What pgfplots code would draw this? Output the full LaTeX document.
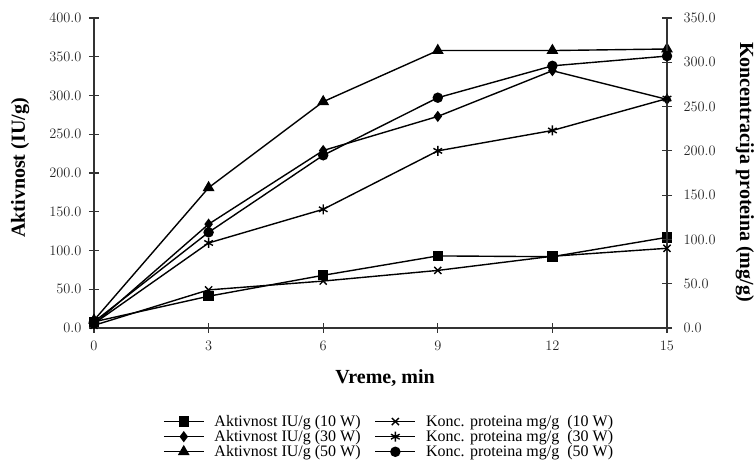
\documentclass[border=0pt]{standalone}
\usepackage{pgfplots}
\pgfplotsset{compat=1.18}
\usepackage{fontspec}
\setmainfont{Liberation Serif}

\pgfplotstableread{
x akt10 akt30 akt50
0 8 5 10
3 41 134 181
6 68 229 292
9 93 273 358
12 92 332 358
15 117 295 360
}\akt
\pgfplotstableread{
x k10 k30 k50
0 3 5 7
3 43 96 108
6 53 134 195
9 65 200 260
12 81 223 296
15 90 259 307
}\konc

\pgfplotsset{
 base/.style={
  scale only axis, width=573pt, height=310pt,
  xmin=0, xmax=15, clip=false,
  tick align=center, major tick length=10pt,
  axis line style={line width=1.3pt, black!80},
  major tick style={line width=1.1pt, black!80},
  yticklabel={\pgfmathprintnumber[fixed,fixed zerofill,precision=1]{\tick}},
  xticklabel={\pgfmathprintnumber{\tick}},
 },
 s/.style={line width=1.4pt, black, mark options={solid, fill=black}},
}
\newcommand\tlfont{\fontsize{15}{17}\selectfont}
\begin{document}
\begin{tikzpicture}
\useasboundingbox (-94pt,-137pt) rectangle (662pt,328pt);
\begin{axis}[base,
  axis x line*=bottom, axis y line*=left,
  ymin=0, ymax=400, ytick={0,50,...,400},
  xtick={0,3,...,15},
  tick label style={font=\tlfont, text=black!85},
  yticklabel style={xshift=-4pt},
  xticklabel style={yshift=-5pt},
  xlabel={Vreme, min},
  ylabel={Aktivnost (IU/g)},
  every axis y label/.style={at={(axis description cs:-0.129,0.516)}, anchor=center, rotate=90, font=\bfseries\fontsize{20}{22}\selectfont},
  every axis x label/.style={at={(axis description cs:0.508,-0.161)}, anchor=center, font=\bfseries\fontsize{20}{22}\selectfont},
  legend columns=2,
  legend cell align=left,
  legend style={at={(0.515,-0.268)}, anchor=north, draw=none, fill=none,
    font=\fontsize{16}{18}\selectfont, row sep=-1.5pt,
    /tikz/every even column/.append style={column sep=12pt},
    /tikz/every odd column/.append style={column sep=8pt}},
  legend image code/.code={\draw[mark repeat=2,mark phase=2,#1] plot coordinates {(0pt,0pt) (20pt,0pt) (40pt,0pt)};},
]
\addplot[s, mark=square*, mark size=4.5pt] table[x=x,y=akt10] {\akt};
\addlegendentry{Aktivnost IU/g (10 W)}
\addlegendimage{s, mark=x, mark size=5pt}
\addlegendentry{Konc. proteina mg/g\ \ (10 W)}
\addplot[s, mark=diamond*, mark size=4.5pt] table[x=x,y=akt30] {\akt};
\addlegendentry{Aktivnost IU/g (30 W)}
\addlegendimage{s, mark=asterisk, mark size=5pt}
\addlegendentry{Konc. proteina mg/g\ \ (30 W)}
\addplot[s, mark=triangle*, mark size=5.5pt] table[x=x,y=akt50] {\akt};
\addlegendentry{Aktivnost IU/g (50 W)}
\addlegendimage{s, mark=*, mark size=4.5pt}
\addlegendentry{Konc. proteina mg/g\ \ (50 W)}
\end{axis}
\begin{axis}[base,
  axis y line*=right, axis x line=none,
  ymin=0, ymax=350, ytick={0,50,...,350},
  tick label style={font=\tlfont, text=black!85},
  yticklabel style={xshift=8pt},
  ylabel={Koncentracija proteina (mg/g)},
  every axis y label/.style={at={(axis description cs:1.136,0.503)}, anchor=center, rotate=-90, font=\bfseries\fontsize{20}{22}\selectfont},
]
\addplot[s, mark=x, mark size=5pt] table[x=x,y=k10] {\konc};
\addplot[s, mark=asterisk, mark size=5pt] table[x=x,y=k30] {\konc};
\addplot[s, mark=*, mark size=4.5pt] table[x=x,y=k50] {\konc};
\end{axis}
\end{tikzpicture}
\end{document}
